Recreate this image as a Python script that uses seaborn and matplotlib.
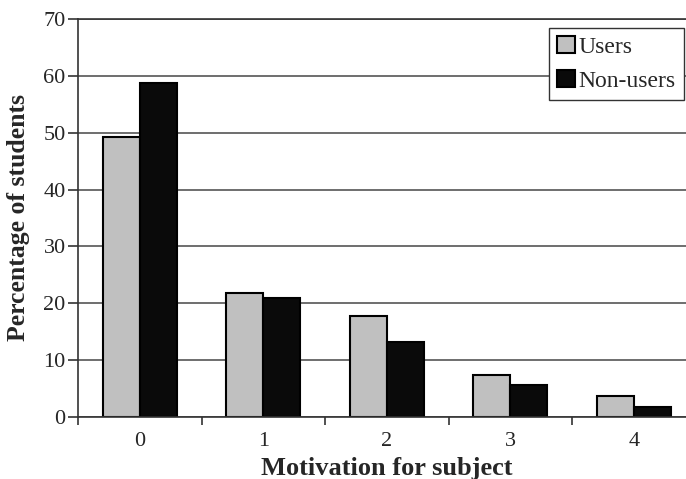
import pandas as pd
import matplotlib.pyplot as plt
import seaborn as sns

motivation = ["0", "1", "2", "3", "4"]
users = [49.2, 21.7, 17.7, 7.4, 3.7]
non_users = [58.7, 20.9, 13.2, 5.5, 1.8]
groups = ["Users", "Non-users"]
y_ticks = [0, 10, 20, 30, 40, 50, 60, 70]

df = pd.DataFrame({
    "Motivation": motivation * 2,
    "Percentage": users + non_users,
    "Group": [groups[0]] * len(users) + [groups[1]] * len(non_users),
})

sns.set_style("white")
plt.rcParams['font.family'] = ['Liberation Serif', 'DejaVu Serif']

fig = plt.figure(figsize=(6.86, 4.79), dpi=100)
ax = fig.add_axes([0.114, 0.13, 0.9, 0.83])

sns.barplot(data=df, x="Motivation", y="Percentage", hue="Group",
            palette={"Users": "#c0c0c0", "Non-users": "#0a0a0a"},
            width=0.6, edgecolor="black", linewidth=1.5, saturation=1, ax=ax)

ax.set_xlim(-0.5, 4.5)
ax.set_ylim(0, 70)
ax.set_yticks(y_ticks)
ax.yaxis.grid(True, color="#555555", linewidth=1.2)
ax.set_axisbelow(True)

# category boundary ticks, labels at centers without marks
ax.set_xticks([i - 0.5 for i in range(len(motivation) + 1)], minor=True)
ax.tick_params(axis="x", which="major", length=0, labelsize=16, pad=11)
ax.tick_params(axis="x", which="minor", length=6, width=1.2, color="#333333", direction="out", bottom=True)
ax.tick_params(axis="y", length=7, width=1.2, color="#333333", labelsize=16, direction="out", left=True, pad=2)

for side in ["left", "bottom", "top"]:
    ax.spines[side].set_color("#333333")
    ax.spines[side].set_linewidth(1.2)
ax.spines["right"].set_visible(False)

ax.set_xlabel("Motivation for subject", fontsize=19, fontweight="bold", labelpad=4)
ax.set_ylabel("Percentage of students", fontsize=18.5, fontweight="bold", labelpad=10)

ax.legend(loc="upper right", bbox_to_anchor=(0.981, 0.978), fontsize=17, frameon=True, fancybox=False,
          edgecolor="#333333", framealpha=1, handlelength=0.75, handleheight=0.75,
          handletextpad=0.15, borderpad=0.35, labelspacing=0.5, borderaxespad=0)

fig.savefig("out.png", dpi=100)
